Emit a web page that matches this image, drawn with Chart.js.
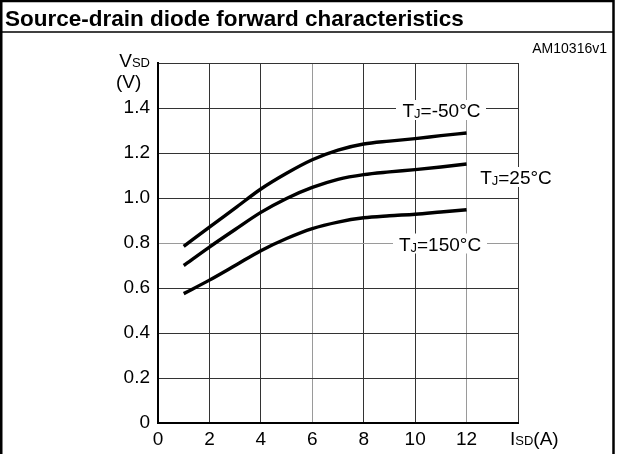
<!DOCTYPE html>
<html>
<head>
<meta charset="utf-8">
<script src="https://cdn.jsdelivr.net/npm/chart.js@4"></script>
<style>
  html, body { margin: 0; padding: 0; background: #fff; }
  #wrap { width: 617px; height: 454px; position: relative; }
</style>
</head>
<body>
<div id="wrap"><canvas id="c" width="617" height="454"></canvas></div>
<script>
const currents = [1, 2, 3, 4, 5, 6, 7, 8, 9, 10, 11, 12];
const vsdMinus50 = [0.785, 0.871, 0.955, 1.04, 1.11, 1.17, 1.213, 1.24, 1.253, 1.264, 1.277, 1.289];
const vsd25 = [0.70, 0.782, 0.86, 0.936, 0.998, 1.047, 1.083, 1.104, 1.116, 1.126, 1.138, 1.151];
const vsd150 = [0.575, 0.635, 0.70, 0.766, 0.82, 0.864, 0.893, 0.912, 0.921, 0.928, 0.938, 0.948];
const xTicks = [0, 2, 4, 6, 8, 10, 12];
const yTicks = [0, 0.2, 0.4, 0.6, 0.8, 1.0, 1.2, 1.4];

const FONT = "'Liberation Sans', Arial, sans-serif";

function pts(vals) { return currents.map((x, i) => ({ x: x, y: vals[i] })); }

function drawParts(ctx, parts, x, y, align) {
  let w = 0;
  parts.forEach(p => { ctx.font = p[1] + 'px ' + FONT; w += ctx.measureText(p[0]).width; });
  let cx = align === 'right' ? x - w : (align === 'center' ? x - w / 2 : x);
  ctx.textBaseline = 'alphabetic';
  ctx.textAlign = 'left';
  parts.forEach(p => {
    ctx.font = p[1] + 'px ' + FONT;
    ctx.fillText(p[0], cx, y + (p[2] || 0));
    cx += ctx.measureText(p[0]).width;
  });
}

const decor = {
  id: 'decor',
  afterDatasetsDraw(chart) {
    const ctx = chart.ctx;
    ctx.save();
    const labels = [
      { parts: [['T', 19], ['J', 13, 1], ['=-50°C', 19]], cx: 441.5, cy: 110, bx: 396, bw: 90 },
      { parts: [['T', 19], ['J', 13, 1], ['=25°C', 19]], cx: 516, cy: 177, bx: 474, bw: 84 },
      { parts: [['T', 19], ['J', 13, 1], ['=150°C', 19]], cx: 440, cy: 243.5, bx: 393, bw: 94 }
    ];
    labels.forEach(l => {
      ctx.fillStyle = '#fff';
      ctx.fillRect(l.bx, l.cy - 10, l.bw, 20);
      ctx.fillStyle = '#000';
      drawParts(ctx, l.parts, l.cx, l.cy + 7, 'center');
    });
    ctx.restore();
  },
  afterDraw(chart) {
    const ctx = chart.ctx;
    ctx.save();
    ctx.fillStyle = '#000';
    ctx.font = 'bold 22.5px ' + FONT;
    ctx.textBaseline = 'alphabetic';
    ctx.textAlign = 'left';
    ctx.fillText('Source-drain diode forward characteristics', 5, 26);
    ctx.font = '14px ' + FONT;
    ctx.textAlign = 'right';
    ctx.fillText('AM10316v1', 607, 53);
    drawParts(ctx, [['V', 19], ['SD', 13]], 150, 67, 'right');
    drawParts(ctx, [['(V)', 19]], 116, 88, 'left');
    drawParts(ctx, [['I', 19], ['SD', 13], ['(A)', 19]], 510, 445, 'left');
    ctx.strokeStyle = '#000';
    ctx.lineWidth = 2.5;
    ctx.beginPath();
    ctx.moveTo(1.25, 454); ctx.lineTo(1.25, 1); ctx.lineTo(613.5, 1); ctx.lineTo(613.5, 454);
    ctx.stroke();
    ctx.lineWidth = 1.5;
    ctx.beginPath();
    ctx.moveTo(0, 32); ctx.lineTo(614, 32);
    ctx.stroke();
    ctx.restore();
  }
};

function gridColor(ctx, light) {
  const v = ctx.tick ? ctx.tick.value : null;
  return light.some(l => Math.abs(l - v) < 1e-6) ? '#9a9a9a' : '#333333';
}

new Chart(document.getElementById('c'), {
  type: 'line',
  data: {
    datasets: [
      { label: 'TJ=-50°C', data: pts(vsdMinus50) },
      { label: 'TJ=25°C', data: pts(vsd25) },
      { label: 'TJ=150°C', data: pts(vsd150) }
    ].map(d => Object.assign(d, {
      borderColor: '#000', borderWidth: 3.4, pointRadius: 0,
      cubicInterpolationMode: 'monotone', fill: false
    }))
  },
  options: {
    responsive: false,
    animation: false,
    devicePixelRatio: 1,
    layout: { padding: { left: 0, right: 99, top: 63, bottom: 0 } },
    plugins: { legend: { display: false }, tooltip: { enabled: false }, title: { display: false } },
    scales: {
      x: {
        type: 'linear', min: 0, max: 14,
        afterFit(s) { s.height = 31; },
        afterBuildTicks(s) { s.ticks = xTicks.concat([14]).map(v => ({ value: v })); },
        ticks: {
          padding: 5, color: '#000', font: { family: FONT, size: 19 }, maxRotation: 0, autoSkip: false,
          callback: v => xTicks.includes(v) ? String(v) : ''
        },
        grid: { color: c => gridColor(c, [6, 12]), lineWidth: 1, drawTicks: false },
        border: { display: true, color: '#000', width: 2 }
      },
      y: {
        type: 'linear', min: 0, max: 1.6,
        afterFit(s) { s.width = 158; },
        afterBuildTicks(s) { s.ticks = yTicks.concat([1.6]).map(v => ({ value: v })); },
        ticks: {
          padding: 8, color: '#000', font: { family: FONT, size: 19 }, autoSkip: false,
          callback: v => {
            if (Math.abs(v - 1.6) < 1e-6) return '';
            return v === 0 ? '0' : v.toFixed(1);
          }
        },
        grid: { color: c => gridColor(c, [0.8]), lineWidth: 1, drawTicks: false },
        border: { display: true, color: '#000', width: 2 }
      }
    }
  },
  plugins: [decor]
});
</script>
</body>
</html>
